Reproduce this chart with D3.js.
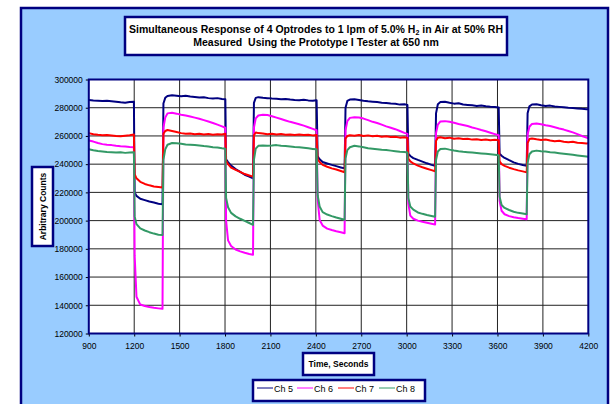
<!DOCTYPE html>
<html>
<head>
<meta charset="utf-8">
<script src="https://cdn.jsdelivr.net/npm/d3@7"></script>
<style>
    body { margin: 0; background: #fff; }
    text { font-family: Arial, "Liberation Sans", sans-serif; }
</style>
</head>
<body>
<div id="chart"></div>
<script>

// Time axis (seconds)
const times = [
    900, 930, 960, 990, 1020, 1050, 1080, 1110, 1140, 1170, 1198,
    1203, 1215, 1240, 1270, 1300, 1330, 1360, 1387,
    1393, 1405, 1420, 1450, 1480, 1510, 1540, 1570, 1600, 1630, 1660, 1690, 1720, 1750, 1780, 1802,
    1807, 1820, 1840, 1870, 1900, 1930, 1960, 1985,
    1991, 2003, 2020, 2050, 2080, 2110, 2140, 2170, 2200, 2230, 2260, 2290, 2320, 2350, 2380, 2405,
    2412, 2425, 2445, 2475, 2505, 2535, 2565, 2590,
    2596, 2608, 2625, 2655, 2685, 2715, 2745, 2775, 2805, 2835, 2865, 2895, 2925, 2955, 2985, 3005,
    3011, 3024, 3044, 3074, 3104, 3134, 3164, 3188,
    3194, 3206, 3223, 3253, 3283, 3313, 3343, 3373, 3403, 3433, 3463, 3493, 3523, 3553, 3583, 3608,
    3614, 3627, 3647, 3677, 3707, 3737, 3767, 3793,
    3799, 3811, 3828, 3858, 3888, 3918, 3948, 3978, 4008, 4038, 4068, 4098, 4128, 4158, 4188, 4200
];

const ch5 = [
    285500, 285200, 285000, 284800, 284900, 284600, 284300, 283800, 283500, 284000, 284300,
    220000, 217500, 215500, 214500, 213500, 212800, 212000, 211500,
    283000, 287000, 288300, 288800, 288500, 288200, 288500, 288000, 287600, 287200, 287400, 286800, 286500, 286800, 286200, 286000,
    243500, 241500, 239000, 236500, 234500, 232500, 231200, 230000,
    283500, 287000, 287500, 287000, 286800, 286500, 286300, 286000, 286200, 285800, 285500, 285300, 285700, 285200, 285000, 285300,
    245500, 243500, 241500, 240500, 239500, 238600, 237700, 237000,
    280000, 284800, 285800, 286000, 285500, 285000, 284600, 284300, 284000, 283600, 283300, 283000, 282800, 282200, 282500, 282000,
    247500, 245800, 244300, 243000, 241800, 240600, 239500, 238800,
    276000, 282500, 284000, 284200, 283500, 282900, 283200, 282300, 282000, 281700, 281300, 281500, 281000, 280700, 280500, 280200,
    247500, 246000, 244400, 242800, 241300, 240200, 239400, 238800,
    276000, 281000, 282300, 282500, 281800, 281200, 281500, 280800, 280600, 280300, 280000, 279800, 279500, 279200, 279000, 278900
];

const ch6 = [
    256800, 256000, 255000, 254200, 253800, 253500, 253000, 252700, 252500, 252200, 252000,
    175000, 146000, 140500, 139500, 138800, 138200, 137800, 137500,
    266000, 273000, 276000, 276500, 275800, 275000, 274500, 273800, 273000, 272200, 271200, 270200, 269200, 268000, 266800, 265800,
    200000, 186000, 182000, 179500, 178200, 177200, 176400, 175800,
    266000, 272500, 274500, 275000, 274800, 274000, 273000, 272000, 271000, 270000, 269200, 268300, 267300, 266200, 265000, 264000,
    215000, 200500, 196500, 194300, 193300, 192400, 191700, 191000,
    264000, 270500, 272800, 273300, 273000, 272300, 271200, 270000, 269200, 268000, 266800, 265800, 264800, 263500, 262200, 261500,
    212000, 203500, 201300, 200000, 199200, 198500, 197800, 197200,
    262000, 268000, 270300, 270500, 270000, 269300, 268500, 267800, 267000, 266000, 265200, 264200, 263300, 262300, 261300, 260500,
    214000, 207000, 204500, 203200, 202400, 201800, 201400, 201000,
    261000, 266500, 268500, 268800, 268300, 267600, 267000, 266200, 265300, 264500, 263500, 262500, 261300, 260000, 258800, 258300
];

const ch7 = [
    262000, 261200, 260800, 260500, 260600, 260300, 260000, 259800, 260200, 260500, 261000,
    233000, 230000, 227500, 226000, 225000, 224200, 223800, 223500,
    261500, 263500, 264200, 263500, 262800, 262000, 261500, 261800, 261200, 261500, 261000, 261300, 260800, 261200, 261000, 261500,
    242500, 240000, 237500, 236000, 234500, 233000, 232000, 231200,
    260500, 262500, 262000, 261800, 261200, 261500, 261000, 261300, 260800, 261000, 260700, 261000, 260600, 260800, 260400, 260600,
    243500, 241500, 239500, 238200, 237000, 236200, 235200, 234300,
    258000, 260000, 260500, 260200, 260700, 260000, 260400, 259800, 260200, 259500, 259800, 259200, 259400, 258800, 259000, 258600,
    244000, 242000, 240500, 239000, 237800, 236800, 235800, 235000,
    256500, 258800, 259000, 258400, 258800, 258000, 258300, 257800, 258000, 257400, 257700, 257200, 257500, 257000, 257300, 257000,
    242000, 240000, 238800, 237500, 236500, 235600, 234900, 234200,
    255000, 257800, 258200, 257600, 257200, 257500, 256800, 256300, 256600, 255900, 255600, 255900, 255200, 255000, 254700, 254800
];

const ch8 = [
    250500, 249800, 249300, 249000, 248700, 248500, 248200, 248400, 248000, 248300, 248500,
    203000, 197500, 194500, 193000, 191800, 190800, 190000, 189800,
    243000, 250500, 253800, 255000, 254800, 254500, 254000, 253800, 253500, 253200, 252800, 252500, 252000, 251800, 251300, 251000,
    216000, 209500, 205500, 203000, 201300, 199800, 198300, 197000,
    243000, 251000, 253000, 253300, 253000, 253200, 253500, 253000, 252800, 252500, 252200, 252000, 251600, 251200, 250800, 250500,
    218000, 210000, 206000, 204300, 203200, 202200, 201300, 200600,
    244000, 250000, 252000, 253000, 252600, 252000, 251300, 251000, 250600, 250200, 250000, 249600, 249200, 248800, 248600, 248300,
    216000, 210000, 207800, 205800, 204800, 204000, 203300, 202800,
    243000, 249000, 250800, 251000, 250300, 249700, 249200, 248800, 248500, 248200, 247900, 247600, 247300, 247000, 246700, 246400,
    217000, 211000, 209000, 207500, 206300, 205500, 205000, 204500,
    241000, 247000, 249000, 249600, 249200, 248900, 248500, 248200, 247800, 247400, 247000, 246600, 246200, 245800, 245400, 245200
];

const seriesNames = ["Ch 5", "Ch 6", "Ch 7", "Ch 8"];
const seriesColors = ["#000080", "#ff00ff", "#ff0000", "#339966"];
const xTicks = [900, 1200, 1500, 1800, 2100, 2400, 2700, 3000, 3300, 3600, 3900, 4200];
const yTicks = [120000, 140000, 160000, 180000, 200000, 220000, 240000, 260000, 280000, 300000];

const navy = "#000080";
const panelBlue = "#99ccff";

const svg = d3.select("#chart").append("svg")
    .attr("width", 613)
    .attr("height", 404);

// Outer chart panel (bottom edge runs off the picture)
svg.append("rect")
    .attr("x", 21).attr("y", 8)
    .attr("width", 587).attr("height", 410)
    .attr("fill", panelBlue)
    .attr("stroke", navy)
    .attr("stroke-width", 2.5);

// Plot area
const plot = { left: 88.8, right: 588.3, top: 79.5, bottom: 333.5 };

const x = d3.scaleLinear()
    .domain([900, 4200])
    .range([plot.left, plot.right]);

const y = d3.scaleLinear()
    .domain([120000, 300000])
    .range([plot.bottom, plot.top]);

svg.append("rect")
    .attr("x", plot.left).attr("y", plot.top)
    .attr("width", plot.right - plot.left)
    .attr("height", plot.bottom - plot.top)
    .attr("fill", "#fff");

// Gridlines
svg.append("g")
    .selectAll("line")
    .data(yTicks.slice(1, -1))
    .enter().append("line")
    .attr("x1", plot.left).attr("x2", plot.right)
    .attr("y1", d => y(d)).attr("y2", d => y(d))
    .attr("stroke", "#222").attr("stroke-width", 1);

svg.append("g")
    .selectAll("line")
    .data(xTicks.slice(1, -1))
    .enter().append("line")
    .attr("y1", plot.top).attr("y2", plot.bottom)
    .attr("x1", d => x(d)).attr("x2", d => x(d))
    .attr("stroke", "#222").attr("stroke-width", 1);

// Axes
const xAxis = d3.axisBottom(x).tickValues(xTicks).tickSize(3).tickFormat(d3.format("d"));
const yAxis = d3.axisLeft(y).tickValues(yTicks).tickSize(3).tickFormat(d3.format("d"));

const gx = svg.append("g")
    .attr("transform", "translate(0," + plot.bottom + ")")
    .call(xAxis);
const gy = svg.append("g")
    .attr("transform", "translate(" + plot.left + ",0)")
    .call(yAxis);

[gx, gy].forEach(g => {
    g.select(".domain").remove();
    g.selectAll(".tick line").attr("stroke", "#000");
    g.selectAll(".tick text")
        .attr("fill", "#000")
        .style("font-size", "8.5px");
});
gx.selectAll(".tick text").attr("dy", "1.1em");
gy.selectAll(".tick text").attr("x", -6);

// Data lines
const data = [ch5, ch6, ch7, ch8];

svg.append("clipPath").attr("id", "clip")
    .append("rect")
    .attr("x", plot.left).attr("y", plot.top)
    .attr("width", plot.right - plot.left)
    .attr("height", plot.bottom - plot.top);

const line = d3.line()
    .x((d, i) => x(times[i]))
    .y(d => y(d));

svg.append("g")
    .attr("clip-path", "url(#clip)")
    .selectAll("path")
    .data(data)
    .enter().append("path")
    .attr("fill", "none")
    .attr("stroke", (d, i) => seriesColors[i])
    .attr("stroke-width", 2)
    .attr("stroke-linejoin", "round")
    .attr("d", line);

// Plot border
svg.append("rect")
    .attr("x", plot.left).attr("y", plot.top)
    .attr("width", plot.right - plot.left)
    .attr("height", plot.bottom - plot.top)
    .attr("fill", "none")
    .attr("stroke", navy)
    .attr("stroke-width", 2);

// Helper for the little white boxes Excel draws around titles
function box(bx, by, bw, bh) {
    svg.append("rect")
        .attr("x", bx).attr("y", by)
        .attr("width", bw).attr("height", bh)
        .attr("fill", "#fff")
        .attr("stroke", navy)
        .attr("stroke-width", 2.5);
}

// Chart title
box(125, 17, 382, 38);
const title = svg.append("text")
    .attr("x", 316).attr("y", 33)
    .attr("text-anchor", "middle")
    .style("font-size", "10.5px")
    .style("font-weight", "bold");
title.append("tspan").text("Simultaneous Response of 4 Optrodes to 1 lpm of 5.0% H");
title.append("tspan").attr("dy", 2).style("font-size", "7px").text("2");
title.append("tspan").attr("dy", -2).text(" in Air at 50% RH");

svg.append("text")
    .attr("x", 316).attr("y", 46)
    .attr("text-anchor", "middle")
    .style("font-size", "10.5px")
    .style("font-weight", "bold")
    .style("white-space", "pre")
    .text("Measured  Using the Prototype I Tester at 650 nm");

// Y axis title
box(32, 167, 21, 79);
svg.append("text")
    .attr("transform", "translate(45.5,206.5) rotate(-90)")
    .attr("text-anchor", "middle")
    .style("font-size", "8.5px")
    .style("font-weight", "bold")
    .text("Arbitrary Counts");

// X axis title
box(303, 353, 71, 22);
svg.append("text")
    .attr("x", 338.5).attr("y", 367)
    .attr("text-anchor", "middle")
    .style("font-size", "8.5px")
    .style("font-weight", "bold")
    .text("Time, Seconds");

// Legend
box(253, 380, 172, 21);
const legendX = [257, 297, 338, 379];
const legend = svg.append("g")
    .selectAll("g")
    .data(seriesNames)
    .enter().append("g")
    .attr("transform", (d, i) => "translate(" + legendX[i] + ",388)");

legend.append("line")
    .attr("x1", 0).attr("x2", 16)
    .attr("stroke", (d, i) => seriesColors[i])
    .attr("stroke-width", 1);

legend.append("text")
    .attr("x", 17).attr("y", 3.5)
    .style("font-size", "9px")
    .text(d => d);

</script>
</body>
</html>
